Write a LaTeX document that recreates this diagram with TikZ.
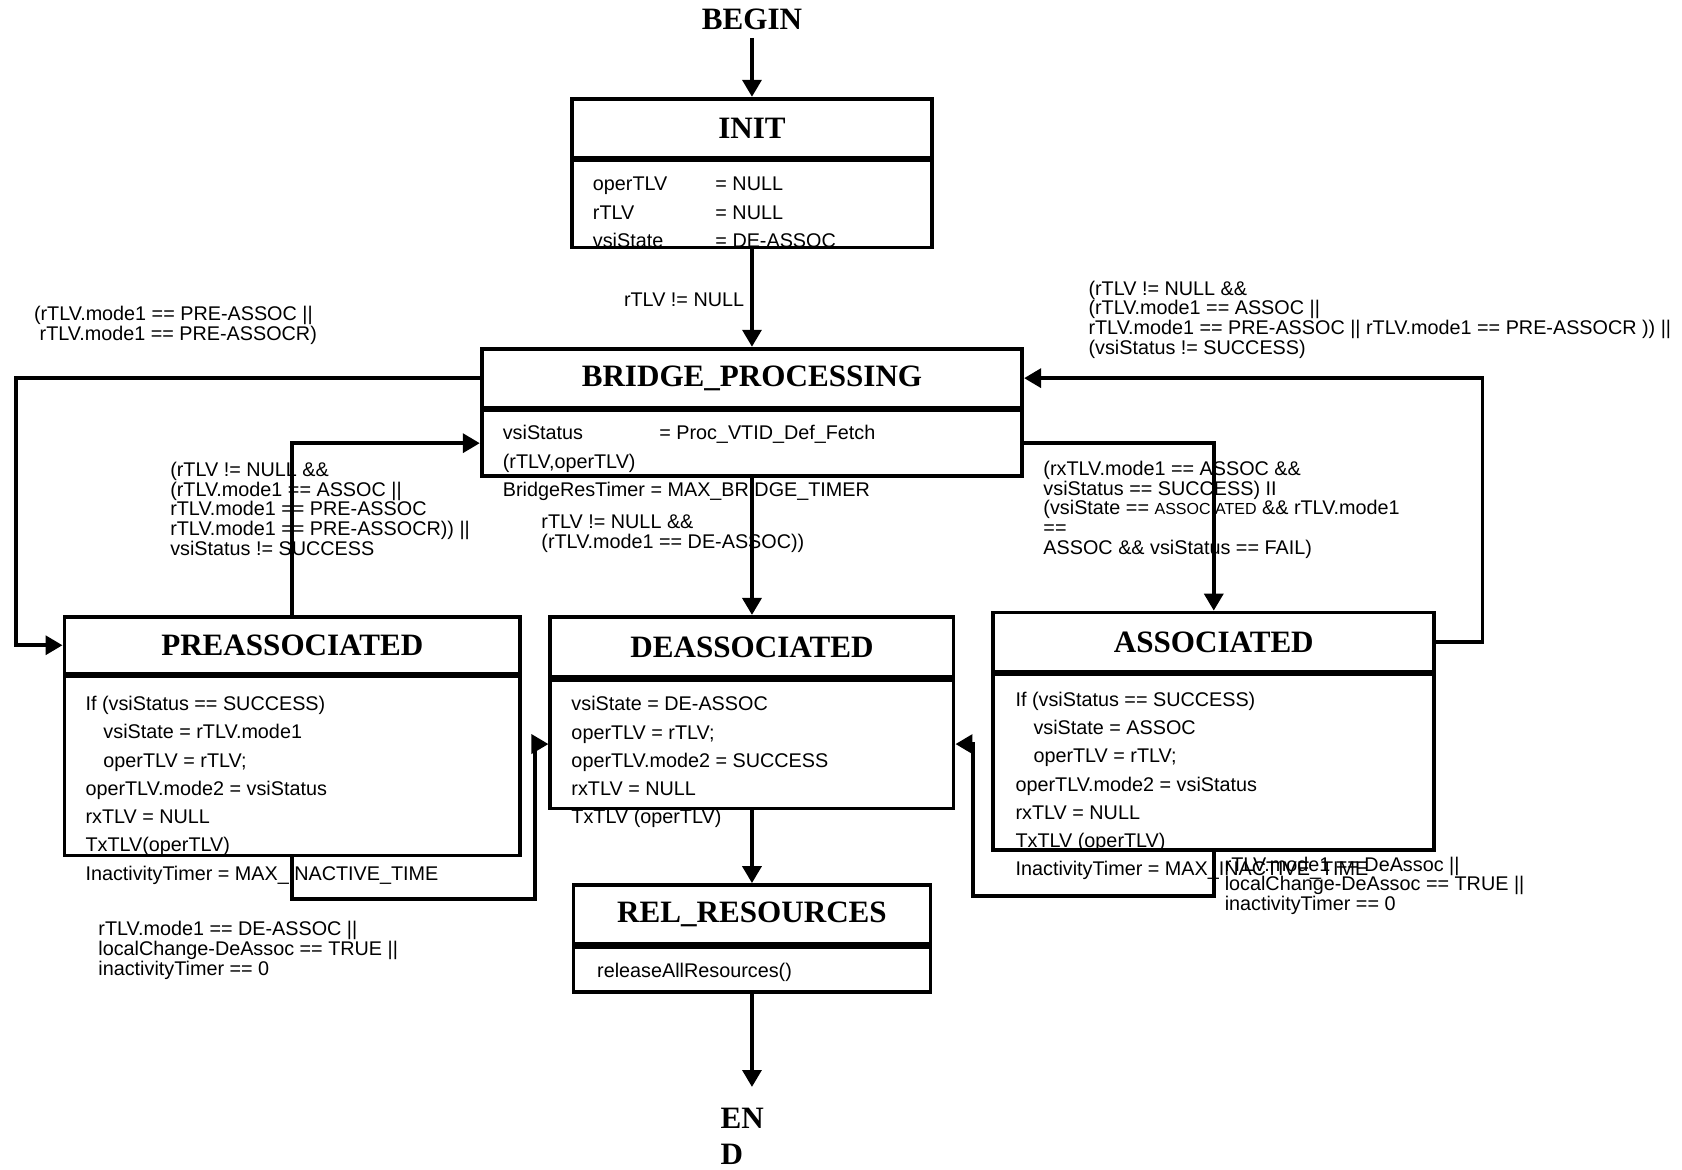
\documentclass[tikz,border=0pt]{standalone}
\usepackage{fontspec}
\setmainfont{Liberation Serif}
\setsansfont{Liberation Sans}
\usetikzlibrary{positioning, arrows.meta}

\begin{document}
\begin{tikzpicture}[x=0.02cm, y=-0.02cm, line width=2pt,
  >={Triangle[length=9pt, width=10pt]},
  state/.style={draw, inner sep=0pt, font=\fontsize{16.5}{20}\selectfont\bfseries},
  stbody/.style={draw, inner sep=0pt, below=-0.5pt of #1},
  acts/.style={anchor=base west, align=left, inner sep=0pt, font=\sffamily\fontsize{10.5}{15}\selectfont},
  cond/.style={anchor=base west, align=left, inner sep=0pt, font=\sffamily\fontsize{10.5}{10.5}\selectfont},
  term/.style={align=left, font=\fontsize{16.5}{19.3}\selectfont\bfseries}]
\useasboundingbox (0,0) rectangle (1568,1090);
% Actions (drawn first, the boxes go over them; at = baseline of last line)
\node[acts] (initacts) at (551,230.7) {\makebox[65pt][l]{operTLV}= NULL\\\makebox[65pt][l]{rTLV}= NULL\\\makebox[65pt][l]{vsiState}= DE-ASSOC};
\node[acts] (bridgeacts) at (467,462.7) {\makebox[83pt][l]{vsiStatus}= Proc\_VTID\_Def\_Fetch\\(rTLV,operTLV)\\BridgeResTimer = MAX\_BRIDGE\_TIMER};
\node[acts] (preacts) at (78,820.5) {If (vsiStatus == SUCCESS)\\\hspace*{9.5pt}vsiState = rTLV.mode1\\\hspace*{9.5pt}operTLV = rTLV;\\operTLV.mode2 = vsiStatus\\rxTLV = NULL\\TxTLV(operTLV)\\InactivityTimer = MAX\_INACTIVE\_TIME};
\node[acts] (deacts) at (531,768) {vsiState = DE-ASSOC\\operTLV = rTLV;\\operTLV.mode2 = SUCCESS\\rxTLV = NULL\\TxTLV (operTLV)};
\node[acts] (assocacts) at (945,816.5) {If (vsiStatus == SUCCESS)\\\hspace*{9.5pt}vsiState = ASSOC\\\hspace*{9.5pt}operTLV = rTLV;\\operTLV.mode2 = vsiStatus\\rxTLV = NULL\\TxTLV (operTLV)\\InactivityTimer = MAX\_INACTIVE\_TIME};
\node[acts] (relacts) at (555,911) {releaseAllResources()};
% States
\node[state, minimum width=6.72cm, minimum height=1.1cm] (init) at (701,119.5) {INIT};
\node[stbody=init, minimum width=6.72cm, minimum height=1.62cm] (initbody) {};
\node[state, minimum width=10.08cm, minimum height=1.1cm] (bridge) at (701,352.5) {BRIDGE\_PROCESSING};
\node[stbody=bridge, minimum width=10.08cm, minimum height=1.22cm] (bridgebody) {};
\node[state, minimum width=8.5cm, minimum height=1.06cm] (preassoc) at (272.5,601.5) {PREASSOCIATED};
\node[stbody=preassoc, minimum width=8.5cm, minimum height=3.34cm] (preassocbody) {};
\node[state, minimum width=7.52cm, minimum height=1.12cm] (deassoc) at (701,603) {DEASSOCIATED};
\node[stbody=deassoc, minimum width=7.52cm, minimum height=2.4cm] (deassocbody) {};
\node[state, minimum width=8.22cm, minimum height=1.1cm] (assoc) at (1131.5,598.5) {ASSOCIATED};
\node[stbody=assoc, minimum width=8.22cm, minimum height=3.28cm] (assocbody) {};
\node[state, minimum width=6.66cm, minimum height=1.1cm] (rel) at (701,852.5) {REL\_RESOURCES};
\node[stbody=rel, minimum width=6.66cm, minimum height=0.84cm] (relbody) {};
\node[term] (begin) at (701,18) {BEGIN};
\node[term, anchor=base west, inner sep=0pt] (end) at (670,1085.5) {EN\\D};
% Conditions
\node[cond] (toBridge) at (580,286) {rTLV != NULL};
\node[cond] (toPreOuter) at (30,317.5) {(rTLV.mode1 == PRE-ASSOC ||\\\hspace*{3pt}rTLV.mode1 == PRE-ASSOCR)};
\node[cond] (toBridgeLeft) at (157,517.8) {(rTLV != NULL \&\&\\(rTLV.mode1 == ASSOC ||\\rTLV.mode1 == PRE-ASSOC\\rTLV.mode1 == PRE-ASSOCR)) ||\\vsiStatus != SUCCESS};
\node[cond] (toDeassoc) at (503,511.5) {rTLV != NULL \&\&\\(rTLV.mode1 == DE-ASSOC))};
\node[cond] (toBridgeRight) at (1013,330.4) {(rTLV != NULL \&\&\\(rTLV.mode1 == ASSOC ||\\rTLV.mode1 == PRE-ASSOC || rTLV.mode1 == PRE-ASSOCR )) ||\\(vsiStatus != SUCCESS)};
\node[cond] (toAssoc) at (971,516.8) {(rxTLV.mode1 == ASSOC \&\&\\vsiStatus == SUCCESS) II\\(vsiState == {\fontsize{8.5}{10}\selectfont ASSOCIATED} \&\& rTLV.mode1\\==\\ASSOC \&\& vsiStatus == FAIL)};
\node[cond] (preToDe) at (90,908.9) {rTLV.mode1 == DE-ASSOC ||\\localChange-DeAssoc == TRUE ||\\inactivityTimer == 0};
\node[cond] (assocToDe) at (1140,848.9) {rTLV.mode1 == DeAssoc ||\\localChange-DeAssoc == TRUE ||\\inactivityTimer == 0};
% Transitions
\coordinate (lloop) at (15,352.5);
\coordinate (rloop) at (1382,598.5);
\coordinate (pdloop) at (499,838);
\coordinate (adloop) at (907,835);
\draw[->] (begin) -- (init);
\draw[->] (initbody) -- (bridge);
\draw[->] (bridge.west) -- (lloop) |- (preassoc.west);
\draw[->] (preassoc.north) |- (bridgebody.west);
\draw[->] (assoc.east) -- (rloop) |- (bridge.east);
\draw[->] (bridgebody.east) -| (assoc.north);
\draw[->] (bridgebody) -- (deassoc);
\draw[->] (preassocbody.south) |- (pdloop) |- (deassocbody.west);
\draw[->] (assocbody.south) |- (adloop) |- (deassocbody.east);
\draw[->] (deassocbody) -- (rel);
\draw[->, shorten >=10pt] (relbody) -- (relbody.south |- end.north);
\end{tikzpicture}
\end{document}
